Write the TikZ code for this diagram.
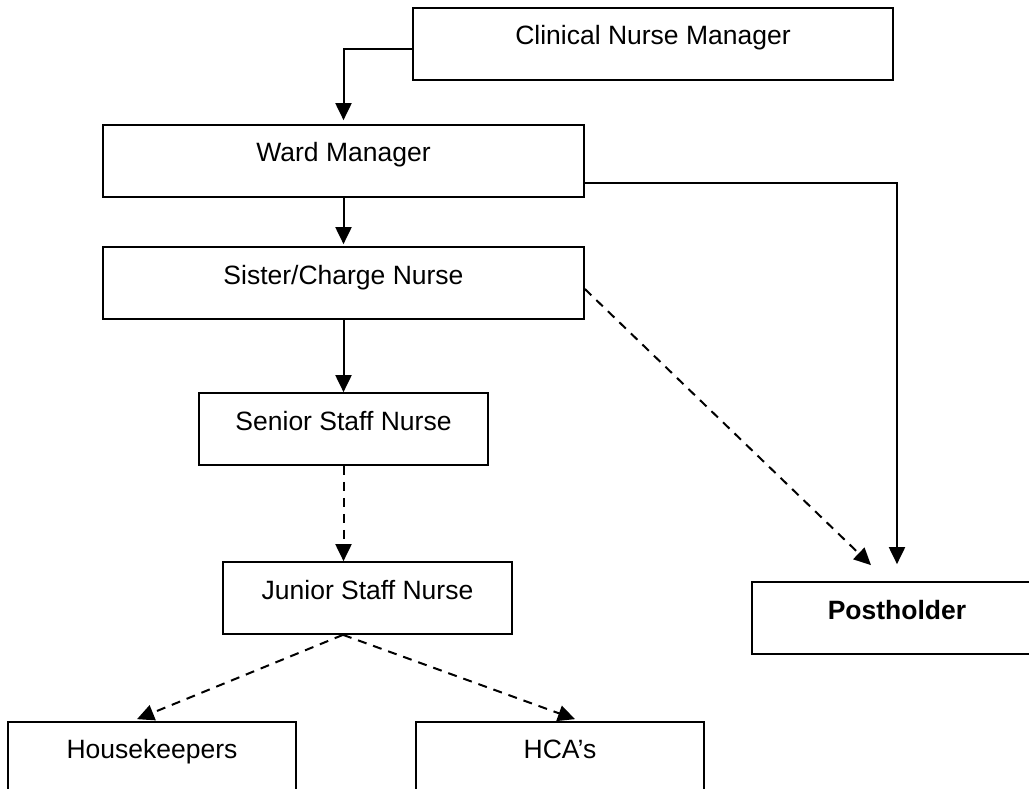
\documentclass[tikz,border=0pt]{standalone}
\usepackage{fontspec}
\setmainfont{Liberation Sans}
\usetikzlibrary{arrows.meta}
\begin{document}
\begin{tikzpicture}[x=1pt,y=-1pt,
  box/.style={draw,line width=1.7pt,inner sep=0pt,minimum height=72pt},
  lbl/.style={anchor=base,inner sep=0pt,font=\fontsize{26.5}{30}\selectfont},
  conn/.style={line width=2pt,-{Triangle[length=17pt 0 0,width=16pt 0 0]}},
  dconn/.style={conn,dash pattern=on 9pt off 7pt}]
\useasboundingbox (0,0) rectangle (1029,789);
\clip (0,0) rectangle (1029,789);
% boxes
\node[box,minimum width=480pt] (cnm)  at (653,44) {};
\node[box,minimum width=481pt] (wm)   at (343.5,161) {};
\node[box,minimum width=481pt] (sis)  at (343.5,283) {};
\node[box,minimum width=289pt] (sen)  at (343.5,429) {};
\node[box,minimum width=289pt] (jun)  at (367.5,598) {};
\node[box,minimum width=290pt] (post) at (897,618) {};
\node[box,minimum width=288pt] (hk)   at (152,758) {};
\node[box,minimum width=288pt] (hca)  at (560,758) {};
% labels
\node[lbl] (tcnm)  at ([yshift=-37pt]cnm.north)  {Clinical Nurse Manager};
\node[lbl] (twm)   at ([yshift=-37pt]wm.north)   {Ward Manager};
\node[lbl] (tsis)  at ([yshift=-38pt]sis.north)  {Sister/Charge Nurse};
\node[lbl] (tsen)  at ([yshift=-38pt]sen.north)  {Senior Staff Nurse};
\node[lbl] (tjun)  at ([yshift=-38pt]jun.north)  {Junior Staff Nurse};
\node[lbl] (tpost) at ([yshift=-38pt]post.north) {\bfseries Postholder};
\node[lbl] (thk)   at ([yshift=-37pt]hk.north)   {Housekeepers};
\node[lbl] (thca)  at ([yshift=-37pt]hca.north)  {HCA’s};
% connectors
\draw[conn,shorten >=4pt] ([yshift=-5pt]cnm.west) -| (wm.north);
\draw[conn,shorten >=2pt] (wm.south) -- (sis.north);
\draw[conn] (sis.south) -- (sen.north);
\draw[dconn] (sen.south) -- (jun.north -| sen.south);
\draw[dconn] ([xshift=-24.5pt]jun.south) -- ([xshift=-15pt,yshift=2pt]hk.north);
\draw[dconn] ([xshift=-24.5pt]jun.south) -- ([xshift=15pt,yshift=2pt]hca.north);
\draw[conn,shorten >=17pt] ([yshift=-22pt]wm.east) -| (post.north);
\draw[dconn] ([yshift=-6pt]sis.east) -- ([xshift=-26pt,yshift=16pt]post.north);
\end{tikzpicture}
\end{document}
